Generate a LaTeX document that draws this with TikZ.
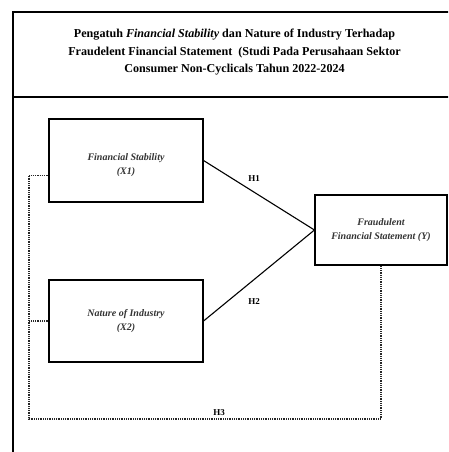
\documentclass[tikz,border=0pt]{standalone}
\usepackage{fontspec}
\setmainfont{Liberation Serif}
\usetikzlibrary{calc}
\begin{document}
\begin{tikzpicture}[x=1pt,y=-1pt,
  varbox/.style={draw=black,line width=1.1pt,align=center,inner sep=0pt,
    font=\fontsize{10}{14}\selectfont\bfseries\itshape,text=black!80},
  vartext/.style={align=center,inner sep=0pt,
    font=\fontsize{10}{14}\selectfont\bfseries\itshape,text=black!80},
  hyp/.style={font=\fontsize{9}{10}\selectfont\bfseries,inner sep=1pt},
  link/.style={line width=1.1pt},
  dotline/.style={line width=1.2pt,dash pattern=on 1pt off 0.8pt,black!85}]
\clip (0,0) rectangle (448,452);
\fill[white] (0,0) rectangle (448,452);
\draw[line width=1.4pt] (13,470) -- (13,12) -- (470,12);
\draw[line width=1.2pt] (13,97) -- (470,97);
\node[align=center,font=\fontsize{12.1}{17.5}\selectfont\bfseries] (title) at (234.5,52.5)
  {Pengatuh \textit{Financial Stability} dan Nature of Industry Terhadap\\
   Fraudelent Financial Statement\ \ (Studi Pada Perusahaan Sektor\\
   Consumer Non-Cyclicals Tahun 2022-2024};
\node[varbox,minimum width=154pt,minimum height=83pt] (fs) at (126,160.5) {};
\node[vartext] (fstext) at ($(fs.center)+(0,5)$) {Financial Stability\\(X1)};
\node[varbox,minimum width=154pt,minimum height=82pt] (ni) at (126,321)
  {Nature of Industry\\(X2)};
\node[varbox,minimum width=132pt,minimum height=70pt] (ffs) at (381,230)
  {Fraudulent\\Financial Statement (Y)};
\draw[link] (fs.east) -- (ffs.west);
\draw[link] (ni.east) -- (ffs.west);
\node[hyp] (h1) at (254,179) {H1};
\node[hyp] (h2) at (254,302) {H2};
\node[hyp] (h3) at (219,413) {H3};
\coordinate (c1) at (29,419);
\coordinate (c2) at (ffs.south |- c1);
\draw[dotline] ($(fs.west)+(0,15)$) -| (c1) -- (c2) -- (ffs.south);
\draw[dotline] (ni.west) -- (ni.west -| c1);
\end{tikzpicture}
\end{document}
